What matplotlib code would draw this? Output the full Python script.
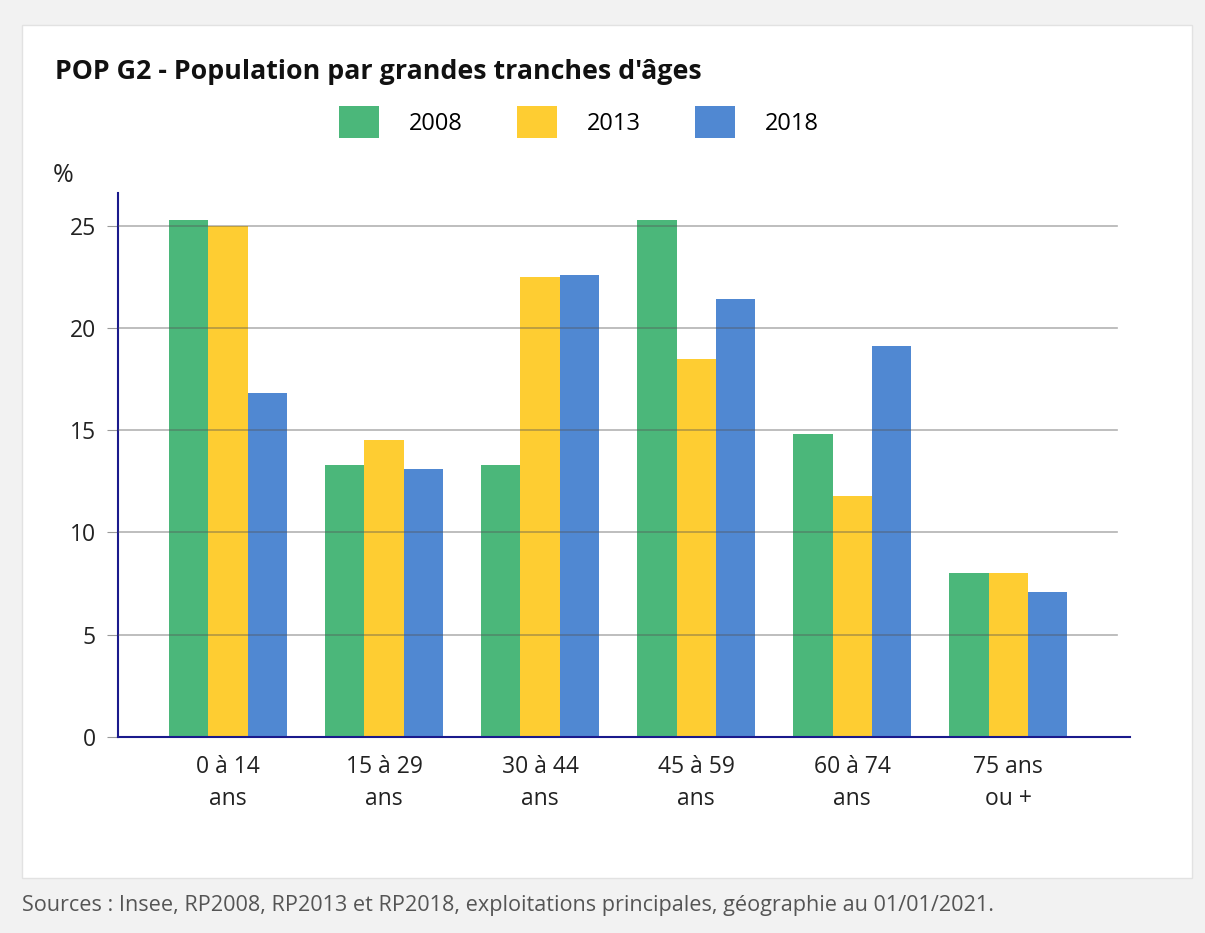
import matplotlib
matplotlib.use('Agg')
import matplotlib.pyplot as plt
import numpy as np
from matplotlib.patches import Rectangle

categories = ['0 à 14\nans', '15 à 29\nans', '30 à 44\nans', '45 à 59\nans', '60 à 74\nans', '75 ans\nou +']
years = ['2008', '2013', '2018']
v2008 = [25.3, 13.3, 13.3, 25.3, 14.8, 8.0]
v2013 = [25.0, 14.5, 22.5, 18.5, 11.8, 8.0]
v2018 = [16.8, 13.1, 22.6, 21.4, 19.1, 7.1]
colors = ['#4bb77a', '#fecd32', '#5088d2']

plt.rcParams['font.family'] = ['Open Sans', 'DejaVu Sans']

fig = plt.figure(figsize=(12.05, 9.33), dpi=100)
fig.patch.set_facecolor('#f2f2f2')
# white card
fig.patches.append(Rectangle((22 / 1205, 1 - 878 / 933), (1192 - 22) / 1205, (878 - 25) / 933,
                             transform=fig.transFigure, facecolor='white',
                             edgecolor='#e2e2e2', linewidth=1, zorder=-10))

ax = fig.add_axes([118 / 1205, 1 - 737 / 933, (1130 - 118) / 1205, (737 - 193) / 933])
ax.set_zorder(2)
ax.set_facecolor('white')

x = np.arange(len(categories))
w = 0.252
for i, (vals, lab) in enumerate(zip([v2008, v2013, v2018], years)):
    ax.bar(x + (i - 1) * w, vals, w, color=colors[i], label=lab, zorder=2)

for yv in [5, 10, 15, 20, 25]:
    ax.axhline(yv, xmin=0, xmax=(1117 - 118) / 1012, color='#555555', alpha=0.45,
               linewidth=1.2, zorder=3)

ax.set_xlim(-0.705, 5.78)
ax.set_ylim(0, 26.6)
ax.set_yticks([0, 5, 10, 15, 20, 25])
ax.set_xticks(x)
ax.set_xticklabels(categories, fontsize=16.5, color='#222222', linespacing=1.45)
ax.tick_params(axis='y', length=8, color='#999999', labelsize=16.5, labelcolor='#222222', pad=8)
ax.tick_params(axis='x', length=0, pad=13)

for s in ['top', 'right']:
    ax.spines[s].set_visible(False)
ax.spines['left'].set_color('#1a1a8c')
ax.spines['bottom'].set_color('#1a1a8c')
ax.spines['left'].set_linewidth(1.5)
ax.spines['bottom'].set_linewidth(1.5)

fig.text(55 / 1205, 1 - 72 / 933, "POP G2 - Population par grandes tranches d'âges",
         fontsize=19.3, fontweight='bold', color='#111111', va='center', ha='left')
fig.text(53 / 1205, 1 - 176 / 933, '%', fontsize=18, color='#222222', va='center', ha='left')

fig.legend(loc='center', bbox_to_anchor=(579 / 1205, 1 - 122 / 933), ncol=3, frameon=False,
           fontsize=17, handlelength=1.7, handleheight=1.65, handletextpad=1.25,
           columnspacing=2.3)

fig.text(22 / 1205, 1 - 906 / 933,
         'Sources : Insee, RP2008, RP2013 et RP2018, exploitations principales, géographie au 01/01/2021.',
         fontsize=15.6, color='#555555', va='center', ha='left')

fig.savefig('out.png', dpi=100, facecolor=fig.get_facecolor())
